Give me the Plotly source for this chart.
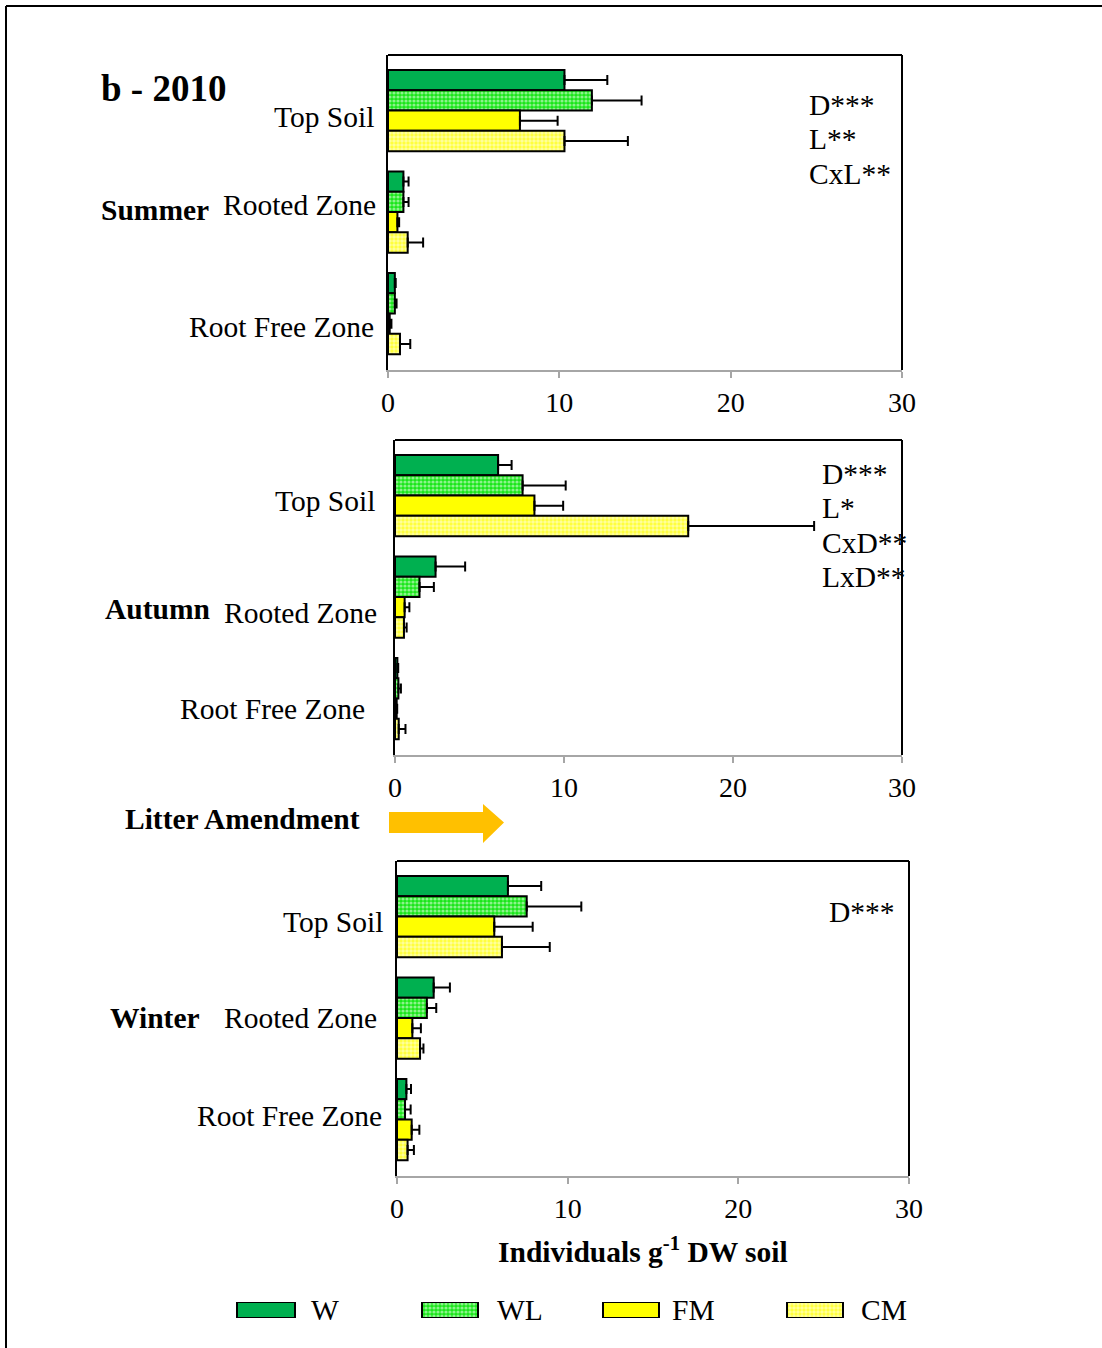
import plotly.graph_objects as go

W, H = 1102, 1348
FONT = "Liberation Serif"

zones = ["Top Soil", "Rooted Zone", "Root Free Zone"]
series = ["W", "WL", "FM", "CM"]
x_ticks = [0, 10, 20, 30]

# Summer 2010 (means and + standard errors, per zone)
summer_W = [10.3, 0.9, 0.4]
summer_WL = [11.9, 0.9, 0.4]
summer_FM = [7.7, 0.55, 0.1]
summer_CM = [10.3, 1.15, 0.7]
summer_W_err = [2.5, 0.3, 0.05]
summer_WL_err = [2.9, 0.3, 0.1]
summer_FM_err = [2.2, 0.1, 0.1]
summer_CM_err = [3.7, 0.9, 0.6]

# Autumn 2010
autumn_W = [6.1, 2.4, 0.14]
autumn_WL = [7.55, 1.45, 0.2]
autumn_FM = [8.25, 0.57, 0.1]
autumn_CM = [17.35, 0.53, 0.22]
autumn_W_err = [0.8, 1.75, 0.05]
autumn_WL_err = [2.55, 0.85, 0.15]
autumn_FM_err = [1.7, 0.28, 0.03]
autumn_CM_err = [7.45, 0.16, 0.4]

# Winter 2010
winter_W = [6.5, 2.15, 0.55]
winter_WL = [7.6, 1.75, 0.47]
winter_FM = [5.7, 0.9, 0.86]
winter_CM = [6.15, 1.35, 0.62]
winter_W_err = [1.95, 0.95, 0.27]
winter_WL_err = [3.2, 0.55, 0.33]
winter_FM_err = [2.25, 0.5, 0.45]
winter_CM_err = [2.8, 0.2, 0.37]

seasons = ["Summer", "Autumn", "Winter"]
stats_summer = ["D***", "L**", "CxL**"]
stats_autumn = ["D***", "L*", "CxD**", "LxD**"]
stats_winter = ["D***"]


def px(x):
    return x / W


def py(y):
    return 1 - y / H


# styles per series
styles = {
    "W": dict(color="#00B050"),
    "WL": dict(color="#FFFFFF", pattern=dict(shape=".", fgcolor="#FFFFFF", bgcolor="#19E619",
                                              size=4, solidity=0.5, fillmode="overlay")),
    "FM": dict(color="#FFFF00"),
    "CM": dict(color="#FFFFFF", pattern=dict(shape=".", fgcolor="#FFFFFF", bgcolor="#FFFF33",
                                              size=4, solidity=0.6, fillmode="overlay")),
}

data = {
    "Summer": ([summer_W, summer_WL, summer_FM, summer_CM],
               [summer_W_err, summer_WL_err, summer_FM_err, summer_CM_err], stats_summer),
    "Autumn": ([autumn_W, autumn_WL, autumn_FM, autumn_CM],
               [autumn_W_err, autumn_WL_err, autumn_FM_err, autumn_CM_err], stats_autumn),
    "Winter": ([winter_W, winter_WL, winter_FM, winter_CM],
               [winter_W_err, winter_WL_err, winter_FM_err, winter_CM_err], stats_winter),
}

# panel boxes in pixels: left, right, top, bottom
panels = [
    dict(box=(388, 902, 55, 370), season_xy=(101, 210),
         zone_lab=[(374, 117), (376, 205), (374, 327)], stats_xy=(809, 105)),
    dict(box=(395, 902, 440, 755), season_xy=(105, 609),
         zone_lab=[(375, 501), (377, 613), (365, 709)], stats_xy=(822, 474)),
    dict(box=(397, 909, 861, 1176), season_xy=(110, 1018),
         zone_lab=[(383, 922), (377, 1018), (382, 1116)], stats_xy=(829, 912)),
]

fig = go.Figure()
annotations = []
shapes = []
layout_axes = {}

for i, (season, p) in enumerate(zip(seasons, panels)):
    sfx = "" if i == 0 else str(i + 1)
    means, errs, stats = data[season]
    for s, m, e in zip(series, means, errs):
        st = styles[s]
        marker = dict(color=st["color"], line=dict(color="black", width=2))
        if "pattern" in st:
            marker["pattern"] = st["pattern"]
        fig.add_trace(go.Bar(
            y=zones, x=m, orientation="h", name=s, marker=marker,
            error_x=dict(type="data", array=e, arrayminus=[0] * len(e), symmetric=False,
                         color="black", thickness=2, width=5),
            xaxis="x" + sfx, yaxis="y" + sfx, showlegend=False,
        ))
    l, r, t, b = p["box"]
    layout_axes["xaxis" + sfx] = dict(
        domain=[px(l), px(r)], anchor="y" + sfx, range=[0, 30], tickvals=x_ticks,
        ticks="outside", ticklen=6, tickwidth=2, tickcolor="#A6A6A6",
        showline=True, linecolor="#A6A6A6", linewidth=2, showgrid=False, zeroline=False,
        tickfont=dict(family=FONT, size=28, color="black"), ticklabelstandoff=0,
        automargin=False,
    )
    layout_axes["yaxis" + sfx] = dict(
        domain=[py(b), py(t)], anchor="x" + sfx, range=[2.556, -0.547], type="category",
        showline=True, linecolor="black", linewidth=2, showticklabels=False, ticks="",
        showgrid=False, zeroline=False, automargin=False,
    )
    # top and right frame lines
    shapes.append(dict(type="line", xref="paper", yref="paper", x0=px(l), x1=px(r), y0=py(t), y1=py(t),
                       line=dict(color="black", width=2)))
    shapes.append(dict(type="line", xref="paper", yref="paper", x0=px(r), x1=px(r), y0=py(t), y1=py(b),
                       line=dict(color="black", width=2)))
    # labels
    annotations.append(dict(text="<b>%s</b>" % season, x=px(p["season_xy"][0]), y=py(p["season_xy"][1]),
                            xanchor="left", yanchor="middle", font=dict(size=29.5)))
    for z, (zx, zy) in zip(zones, p["zone_lab"]):
        annotations.append(dict(text=z, x=px(zx), y=py(zy), xanchor="right", yanchor="middle",
                                font=dict(size=29.5)))
    sx, sy = p["stats_xy"]
    for k, st in enumerate(stats):
        annotations.append(dict(text=st, x=px(sx), y=py(sy + k * 34.3), xanchor="left",
                                yanchor="middle", font=dict(size=29.5)))

annotations.append(dict(text="<b>b - 2010</b>", x=px(101), y=py(88), xanchor="left", yanchor="middle",
                        font=dict(size=37)))
annotations.append(dict(text="<b>Litter Amendment</b>", x=px(125), y=py(819), xanchor="left",
                        yanchor="middle", font=dict(size=29.5)))
annotations.append(dict(text="<b>Individuals g<sup>-1</sup> DW soil</b>", x=px(643), y=py(1250),
                        xanchor="center", yanchor="middle", font=dict(size=29.5)))

# arrow
arrow = ("M {x0},{y0} L {x1},{y0} L {x1},{yh0} L {xt},{yt} L {x1},{yh1} L {x1},{y1} L {x0},{y1} Z"
         .format(x0=px(389), x1=px(483), y0=py(812), y1=py(833), yh0=py(804), yh1=py(843),
                 xt=px(504), yt=py(822.5)))
shapes.append(dict(type="path", xref="paper", yref="paper", path=arrow, fillcolor="#FFC000",
                   line=dict(width=0)))

# outer frame (left and top)
shapes.append(dict(type="line", xref="paper", yref="paper", x0=px(6), x1=px(6), y0=py(6), y1=0,
                   line=dict(color="black", width=2)))
shapes.append(dict(type="line", xref="paper", yref="paper", x0=px(6), x1=1, y0=py(6), y1=py(6),
                   line=dict(color="black", width=2)))

# legend: swatches drawn as bars on a hidden pixel-scaled axis
legend_start = [237, 422, 603, 787]
legend_len = [58, 56, 56, 56]
legend_text_x = [311, 497, 672, 861]
for s, x0, ln, tx in zip(series, legend_start, legend_len, legend_text_x):
    st = styles[s]
    marker = dict(color=st["color"], line=dict(color="black", width=2))
    if "pattern" in st:
        marker["pattern"] = st["pattern"]
    fig.add_trace(go.Bar(y=[0.5], x=[ln], base=[x0], orientation="h", width=1, offset=-0.5,
                         marker=marker, xaxis="x4", yaxis="y4", showlegend=False, hoverinfo="skip"))
    annotations.append(dict(text=s, x=px(tx), y=py(1310), xanchor="left", yanchor="middle",
                            font=dict(size=29.5)))
layout_axes["xaxis4"] = dict(domain=[0, 1], range=[0, W], anchor="y4", visible=False, fixedrange=True,
                             showticklabels=False, automargin=False)
layout_axes["yaxis4"] = dict(domain=[py(1318), py(1302)], range=[0, 1], anchor="x4", visible=False,
                             fixedrange=True, showticklabels=False, automargin=False)

for a in annotations:
    a.update(xref="paper", yref="paper", showarrow=False, borderpad=0, borderwidth=0)
    a["font"].update(family=FONT, color="black")

fig.update_layout(
    width=W, height=H, autosize=False,
    margin=dict(l=0, r=0, t=0, b=0, pad=0, autoexpand=False),
    paper_bgcolor="white", plot_bgcolor="white",
    barmode="group", bargap=0.2, bargroupgap=0,
    font=dict(family=FONT, color="black"),
    annotations=annotations, shapes=shapes,
    showlegend=False,
)
fig.update_layout(**layout_axes)

fig.write_html("out.html", config={"responsive": False, "displayModeBar": False})
